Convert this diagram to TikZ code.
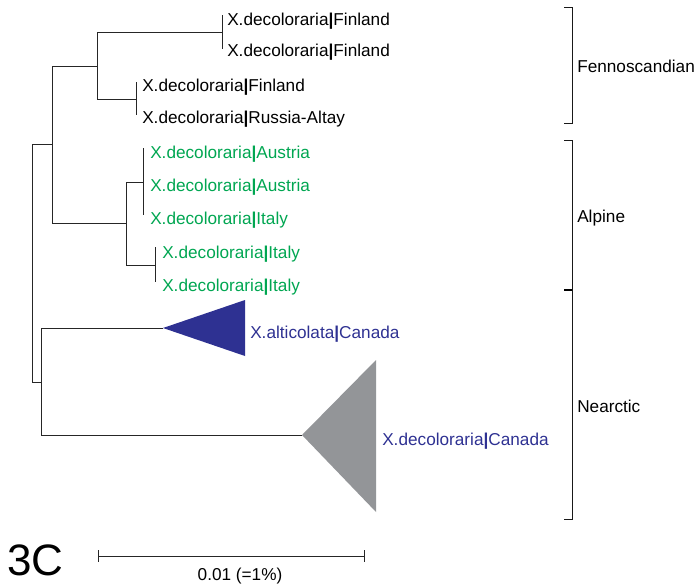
\documentclass[tikz,border=0pt]{standalone}
\usepackage{fontspec}
\setmainfont{Liberation Sans}
\definecolor{alpgreen}{HTML}{00A651}
\definecolor{nearblue}{HTML}{2E3192}
\definecolor{cladegray}{HTML}{939598}
\newcommand{\taxbar}{{\bfseries|}}

\begin{document}
\begin{tikzpicture}[x=0.75pt,y=-0.75pt]
\tikzstyle{taxon}=[anchor=base west,inner sep=0pt,font=\fontsize{12.9}{15}\selectfont]
\tikzstyle{branch}=[line width=0.6pt,draw=black!85]
\tikzstyle{brace}=[line width=0.7pt,draw=black!90]
\useasboundingbox (0,0) rectangle (695,588);

\path (32,263) coordinate(r) (52,144) coordinate(a) (41,382) coordinate(n);
\path (97,66) coordinate(f) (126,223) coordinate(p);
\path (222,32) coordinate(f1) (136,99) coordinate(f2);
\path (143,182) coordinate(p1) (155,265) coordinate(p2);
\path (222,15) coordinate(t1) (222,49) coordinate(t2) (136,82) coordinate(t3) (136,115) coordinate(t4);
\path (143,148) coordinate(t5) (143,215) coordinate(t6) (155,247) coordinate(t7) (155,282) coordinate(t8);
\path (163,328) coordinate(alt) (302,435) coordinate(can);

\draw[branch] (r) |- (a);
\draw[branch] (r) |- (n);
\draw[branch] (a) |- (f);
\draw[branch] (a) |- (p);
\draw[branch] (f) |- (f1);
\draw[branch] (f) |- (f2);
\draw[branch] (f1) -- (t1);
\draw[branch] (f1) -- (t2);
\draw[branch] (f2) -- (t3);
\draw[branch] (f2) -- (t4);
\draw[branch] (p) |- (p1);
\draw[branch] (p) |- (p2);
\draw[branch] (p1) -- (t5);
\draw[branch] (p1) -- (t6);
\draw[branch] (p2) -- (t7);
\draw[branch] (p2) -- (t8);
\draw[branch] (n) |- (alt);
\draw[branch] (n) |- (can);

\fill[nearblue] (alt) -- (245,300) -- (245,356) -- cycle;
\fill[cladegray] (can) -- (376,360) -- (376,512) -- cycle;

\path (227,26) node[taxon](l1){X.decoloraria\taxbar Finland}
      (227,57) node[taxon](l2){X.decoloraria\taxbar Finland}
      (142,92) node[taxon](l3){X.decoloraria\taxbar Finland}
      (142,124) node[taxon](l4){X.decoloraria\taxbar Russia-Altay};
\path (150,158) node[taxon,alpgreen](l5){X.decoloraria\taxbar Austria}
      (150,191) node[taxon,alpgreen](l6){X.decoloraria\taxbar Austria}
      (150,224) node[taxon,alpgreen](l7){X.decoloraria\taxbar Italy}
      (162,258) node[taxon,alpgreen](l8){X.decoloraria\taxbar Italy}
      (162,291) node[taxon,alpgreen](l9){X.decoloraria\taxbar Italy};
\path (250,338) node[taxon,nearblue](l10){X.alticolata\taxbar Canada}
      (382,445) node[taxon,nearblue](l11){X.decoloraria\taxbar Canada};

\draw[brace] (564,7) -- (572,7) -- (572,123) -- (564,123);
\draw[brace] (564,140) -- (572,140) -- (572,290) -- (564,290);
\draw[brace] (564,290) -- (572,290) -- (572,519) -- (564,519);
\draw[line width=1.4pt] (564,290) -- (572,290);
\path (577,73) node[taxon](g1){Fennoscandian}
      (577,222) node[taxon](g2){Alpine}
      (577,412) node[taxon](g3){Nearctic};

\path (98,556) coordinate(s1) (364,556) coordinate(s2);
\draw[branch] (s1) -- (s2);
\draw[branch] (98,550) -- (98,562);
\draw[branch] (364,550) -- (364,562);
\path (240,580) node[taxon,anchor=base](sl){0.01 (=1\%)};
\path (7,575) node[taxon,font=\fontsize{33}{36}\selectfont](fig){3C};
\end{tikzpicture}
\end{document}
